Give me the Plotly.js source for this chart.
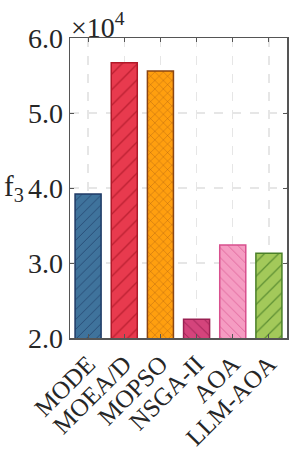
<!DOCTYPE html>
<html><head><meta charset="utf-8">
<script src="https://cdn.plot.ly/plotly-3.0.1.min.js"></script>
<style>html,body{margin:0;padding:0;background:#fff}#c{width:299px;height:455px}</style>
</head><body><div id="c"></div>
<script>
const categories = ["MODE","MOEA/D","MOPSO","NSGA-II","AOA","LLM-AOA"];
const values = [3.92, 5.67, 5.56, 2.25, 3.24, 3.13]; // ×10^4
const yTicks = [2,3,4,5,6];

const styles = {
  fill:  ["#3f739c","#e83a4e","#ff9f0f","#d4447c","#f59cc2","#a3c95a"],
  edge:  ["#1f3a66","#b01828","#8a4512","#9a2052","#d8508e","#4a8028"],
  hatch: ["/","/","x","\\","\\","/"],
  hsize: [7, 11, 6, 8, 7, 10]
};

const traces = categories.map((c, i) => ({
  type: "bar",
  x: [c],
  y: [values[i]],
  width: 0.72,
  marker: {
    color: styles.fill[i],
    line: {color: styles.edge[i], width: 1.5},
    pattern: {shape: styles.hatch[i], fgcolor: styles.edge[i], fgopacity: 0.8, size: styles.hsize[i], solidity: 0.12, fillmode: "overlay"}
  },
  hoverinfo: "none"
}));
const font = "'Liberation Serif', 'Times New Roman', serif";
const layout = {
  width: 299, height: 455,
  margin: {l: 70, r: 12, t: 38, b: 117},
  paper_bgcolor: "#fff", plot_bgcolor: "#fff",
  showlegend: false, barmode: "overlay",
  font: {family: font, color: "#262626"},
  xaxis: {
    categoryorder: "array", categoryarray: categories,
    tickangle: -45, tickfont: {size: 25, family: font, color: "#262626"},
    showline: true, linecolor: "#555", linewidth: 1.5, mirror: "ticks",
    ticks: "inside", ticklen: 4, tickcolor: "#555",
    showgrid: true, gridcolor: "#e6e6e6", griddash: "dash", gridwidth: 1.2,
    zeroline: false
  },
  yaxis: {
    range: [2, 6], tickvals: yTicks, tickformat: ".1f",
    tickfont: {size: 28, family: font, color: "#262626"},
    showline: true, linecolor: "#555", linewidth: 1.5, mirror: "ticks",
    ticks: "inside", ticklen: 4, tickcolor: "#555",
    showgrid: true, gridcolor: "#e6e6e6", griddash: "dash", gridwidth: 1.2,
    zeroline: false
  },
  annotations: [
    {text: "×10<sup>4</sup>", xref: "paper", yref: "paper", x: 0, y: 1, xanchor: "left", yanchor: "bottom",
     showarrow: false, font: {size: 28, family: font, color: "#262626"}, yshift: -7, xshift: -1},
    {text: "f<sub>3</sub>", xref: "paper", yref: "paper", x: 0, y: 0.5, xanchor: "right", yanchor: "middle",
     showarrow: false, font: {size: 29, family: font, color: "#262626"}, xshift: -44}
  ]
};
Plotly.newPlot("c", traces, layout, {staticPlot: true, displayModeBar: false});
</script></body></html>
